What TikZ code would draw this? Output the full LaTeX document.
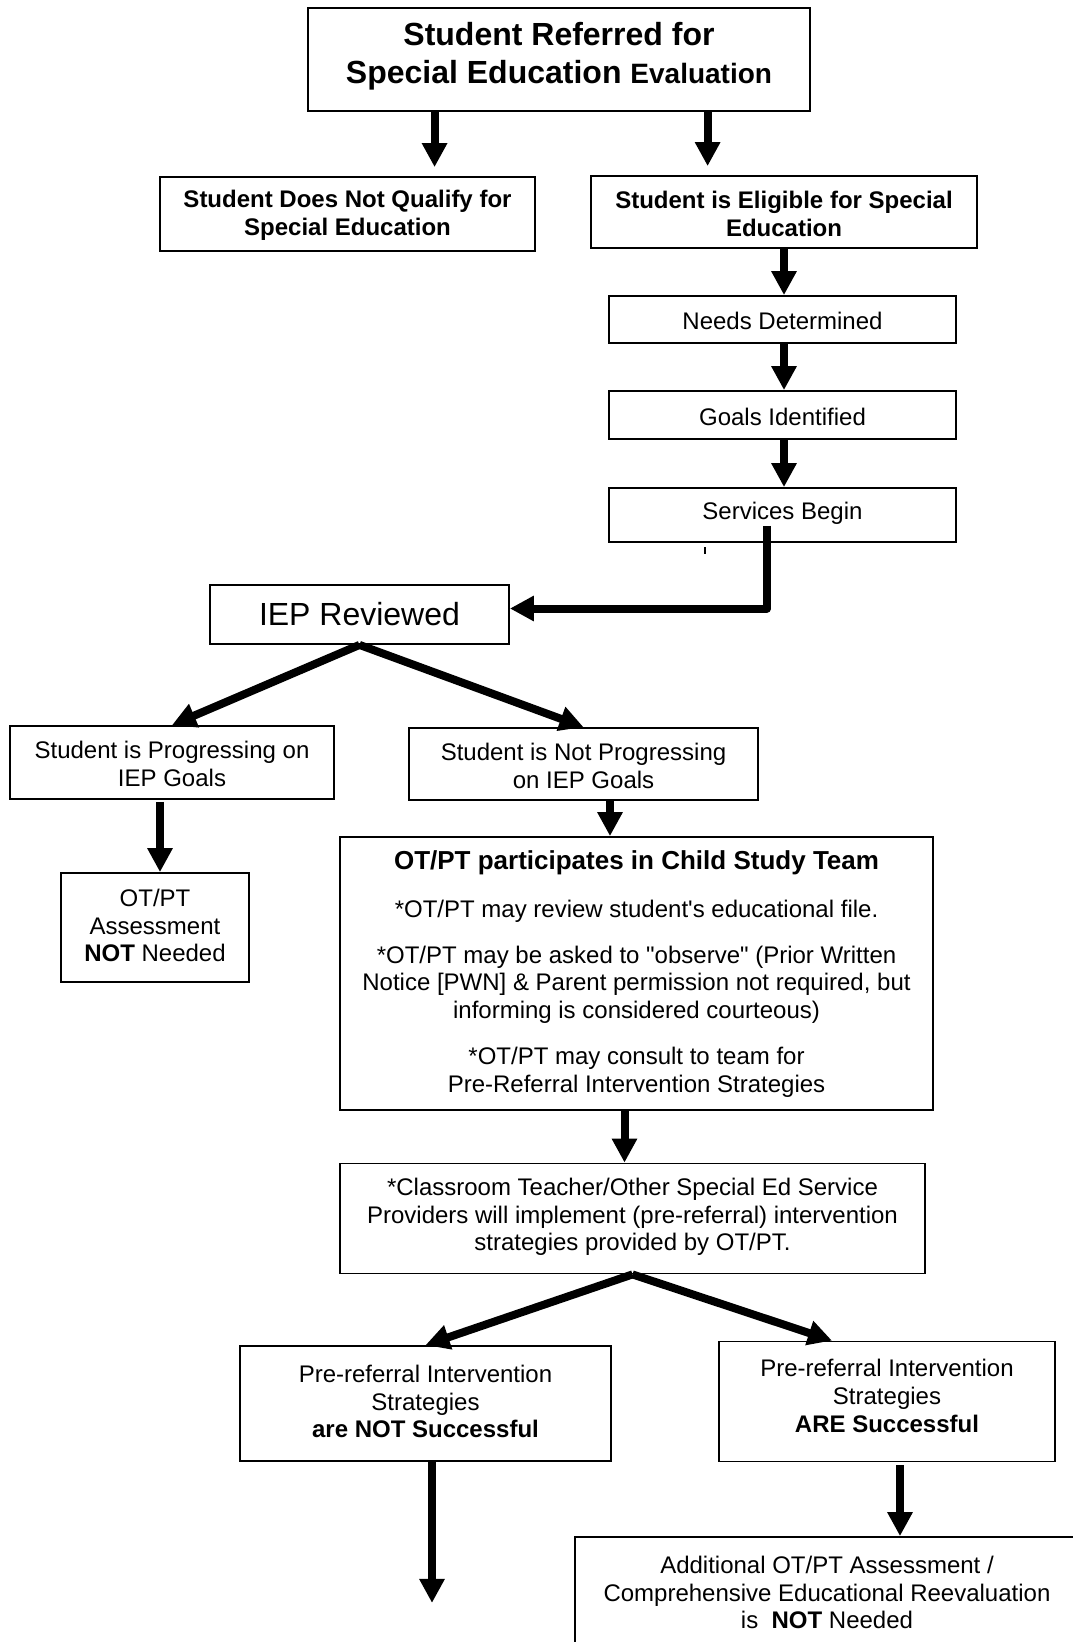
\documentclass[tikz,border=0pt]{standalone}
\usepackage{fontspec}
\newfontfamily\arial{Liberation Sans}
\usetikzlibrary{arrows.meta,calc}
\begin{document}
\begin{tikzpicture}[x=1pt,y=-1pt,
  box/.style={draw=black,line width=1.8pt,inner sep=0pt},
  txt/.style={align=center,inner sep=0pt,yshift=-2.5pt,font=\arial\fontsize{24}{27.6}\selectfont},
  btxt/.style={align=center,inner sep=0pt,yshift=-2.5pt,font=\arial\bfseries\fontsize{24}{27.6}\selectfont},
  arr/.style={line width=8pt,line join=round,-{Triangle[width=24pt,length=24pt]}},
]
\useasboundingbox (0,0) rectangle (1073,1642);
\clip (0,0) rectangle (1073,1642);

% boxes
\node[box,minimum width=502pt,minimum height=103pt] (top) at (559,59.5) {};
\node[box,minimum width=375pt,minimum height=74pt] (notq) at (347.5,214) {};
\node[box,minimum width=386pt,minimum height=72pt] (elig) at (784,212) {};
\node[box,minimum width=347pt,minimum height=47pt] (needs) at (782.5,319.5) {};
\node[box,minimum width=347pt,minimum height=48pt] (goals) at (782.5,415) {};
\node[box,minimum width=347pt,minimum height=54pt] (serv) at (782.5,515) {};
\node[box,minimum width=299pt,minimum height=59pt] (iep) at (359.5,614.5) {};
\node[box,minimum width=324pt,minimum height=73pt] (prog) at (172,762.5) {};
\node[box,minimum width=349pt,minimum height=72pt] (notprog) at (583.5,764) {};
\node[box,minimum width=188pt,minimum height=109pt] (ot1) at (155,927.5) {};
\node[box,minimum width=593pt,minimum height=273pt] (otpt) at (636.5,973.5) {};
\node[box,minimum width=585pt,minimum height=110pt] (class) at (632.5,1218.5) {};
\node[box,minimum width=371pt,minimum height=115pt] (notsucc) at (425.5,1403.5) {};
\node[box,minimum width=336pt,minimum height=120pt] (succ) at (887,1401.5) {};
\node[box,minimum width=505pt,minimum height=123pt] (add) at (827.5,1598.5) {};

% texts
\node[align=center,inner sep=0pt,font=\arial\bfseries\fontsize{32}{38.5}\selectfont] (ttop) at (559,56)
  {Student Referred for\\Special Education {\fontsize{28}{38.5}\selectfont Evaluation}};
\node[btxt] (tnotq) at (347.5,213) {Student Does Not Qualify for\\Special Education};
\node[btxt] (telig) at (784,211.5) {Student is Eligible for Special\\Education};
\node[txt] (tneeds) at (782.5,318) {Needs Determined};
\node[txt] (tgoals) at (782.5,414.5) {Goals Identified};
\node[txt] (tserv) at (782.5,511) {Services Begin};
\node[txt,font=\arial\fontsize{32}{37}\selectfont] (tiep) at (359.5,612) {IEP Reviewed};
\node[txt] (tprog) at (172,761.5) {Student is Progressing on\\IEP Goals};
\node[txt] (tnotprog) at (583.5,763.6) {Student is Not Progressing\\on IEP Goals};
\node[txt] (tot1) at (155,923) {OT/PT\\Assessment\\\textbf{NOT} Needed};
\node[align=center,inner sep=0pt,yshift=-2.5pt,font=\arial\bfseries\fontsize{26}{30}\selectfont] (totpta) at (636.5,860.5)
  {OT/PT participates in Child Study Team};
\node[txt] (totptb) at (636.5,908.6) {*OT/PT may review student's educational file.};
\node[txt] (totptc) at (636.5,981.9) {*OT/PT may be asked to "observe" (Prior Written\\Notice [PWN] \& Parent permission not required, but\\informing is considered courteous)};
\node[txt] (totptd) at (636.5,1069.7) {*OT/PT may consult to team for\\Pre-Referral Intervention Strategies};
\node[txt] (tclass) at (632.5,1214.5) {*Classroom Teacher/Other Special Ed Service\\Providers will implement (pre-referral) intervention\\strategies provided by OT/PT.};
\node[txt] (tnotsucc) at (425.5,1399) {Pre-referral Intervention\\Strategies\\\textbf{are NOT Successful}};
\node[txt] (tsucc) at (887,1393.5) {Pre-referral Intervention\\Strategies\\\textbf{ARE Successful}};
\node[txt] (tadd) at (827,1590) {Additional OT/PT Assessment /\\Comprehensive Educational Reevaluation\\is\ \ \textbf{NOT} Needed};

% connectors
\coordinate (a1) at ($(top.south west)!0.253!(top.south east)$);
\draw[arr,shorten >=9pt] (a1) -- (a1 |- notq.north);
\coordinate (a2) at ($(top.south west)!0.795!(top.south east)$);
\draw[arr,shorten >=9pt] (a2) -- (a2 |- elig.north);
\draw[arr] (elig.south) -- (elig.south |- needs.north);
\draw[arr] (elig.south |- needs.south) -- (elig.south |- goals.north);
\draw[arr] (elig.south |- goals.south) -- (elig.south |- serv.north);

\coordinate (s1) at ($(serv.south west)!0.455!(serv.south east)+(0,-17)$);
\coordinate (i1) at ($(iep.east)+(0,-6)$);
\draw[arr] (s1) -- (s1 |- i1) -- (i1);
\draw[line width=2pt] (705,547) -- (705,554);

\draw[arr] (iep.south) -- (prog.north);
\draw[arr] (iep.south) -- (notprog.north);

\coordinate (p1) at ([xshift=5pt]ot1.north);
\draw[arr,shorten <=2pt] (p1 |- prog.south) -- (p1);
\coordinate (p2) at ([xshift=26.5pt]notprog.south);
\draw[arr] (p2) -- (p2 |- otpt.north);
\coordinate (p3) at ([xshift=-12pt]otpt.south);
\draw[arr] (p3) -- (p3 |- class.north);

\draw[arr] (class.south) -- (notsucc.north);
\coordinate (p4) at ([xshift=-55pt]succ.north);
\draw[arr] (class.south) -- (p4);

\coordinate (p5) at ([xshift=6.5pt]notsucc.south);
\coordinate (end1) at ($(p5)+(0,141)$);
\draw[arr] (p5) -- (end1);
\coordinate (p6) at ([xshift=13pt]succ.south);
\draw[arr,shorten <=3pt] (p6) -- (p6 |- add.north);
\end{tikzpicture}
\end{document}
